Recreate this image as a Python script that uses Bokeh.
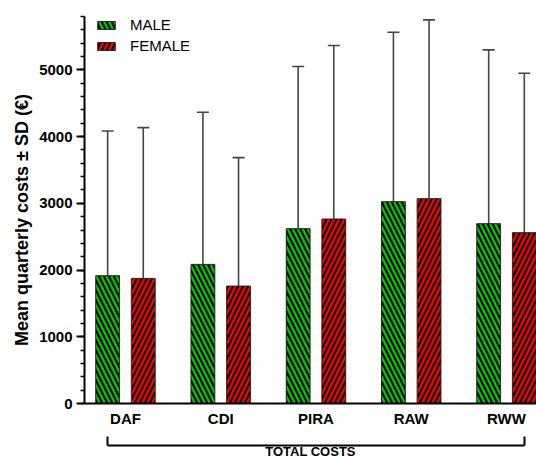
import numpy as np
from bokeh.plotting import figure
from bokeh.models import (ColumnDataSource, Range1d, FixedTicker, LinearAxis,
                          Whisker, TeeHead, Legend, LegendItem)
from bokeh.embed import file_html
from bokeh.resources import INLINE

# ---- data ----
categories = ["DAF", "CDI", "PIRA", "RAW", "RWW"]
series = ["MALE", "FEMALE"]
male_mean = [1915, 2085, 2620, 3025, 2695]
male_sd = [2170, 2280, 2430, 2540, 2605]
female_mean = [1875, 1760, 2765, 3070, 2560]
female_sd = [2260, 1925, 2600, 2680, 2390]
y_ticks = [0, 1000, 2000, 3000, 4000, 5000]
y_max = 5800
group_label = "TOTAL COSTS"
y_label = "Mean quarterly costs \u00b1 SD (\u20ac)"

FONT = "Liberation Sans"
OFF = 0.187
BW = 0.25
n = len(categories)
idx = np.arange(n)

W, H = 536, 461
TOP, BOTTOM, LEFT = 16, 58, 84
FRAME_H = H - TOP - BOTTOM

p = figure(width=W, height=H, output_backend="svg", toolbar_location=None,
           x_range=Range1d(-0.430, 4.315), y_range=Range1d(0, y_max),
           x_axis_location=None, y_axis_location=None,
           min_border_left=LEFT, min_border_right=0, min_border_top=TOP,
           min_border_bottom=BOTTOM)
p.grid.visible = False
p.outline_line_color = None
p.background_fill_color = "white"

src_m = ColumnDataSource(dict(x=idx - OFF, top=male_mean,
                              upper=np.add(male_mean, male_sd)))
src_f = ColumnDataSource(dict(x=idx + OFF, top=female_mean,
                              upper=np.add(female_mean, female_sd)))

bar_style = dict(width=BW, fill_color="black", line_color="#2a2a2a",
                 line_width=1, hatch_scale=10, hatch_weight=2.3)
r_m = p.vbar(x="x", top="top", source=src_m, hatch_pattern="\\",
             hatch_color="#00c800", **bar_style)
r_f = p.vbar(x="x", top="top", source=src_f, hatch_pattern="/",
             hatch_color="#ff0000", **bar_style)

for src in (src_m, src_f):
    p.add_layout(Whisker(source=src, base="x", lower="top", upper="upper",
                         line_color="#454545", line_width=1.6,
                         upper_head=TeeHead(size=12, line_color="#454545",
                                            line_width=1.6),
                         lower_head=None))

LEG_H = 17 * 2 + 4
legend = Legend(items=[LegendItem(label=series[0], renderers=[r_m]),
                       LegendItem(label=series[1], renderers=[r_f])],
                location=(11, FRAME_H - LEG_H), glyph_width=22, glyph_height=10,
                label_text_font_size="15px", label_text_font=FONT,
                label_text_color="black",
                label_standoff=13, spacing=4, label_height=17,
                padding=0, margin=0, background_fill_alpha=0,
                border_line_color=None)
p.add_layout(legend)

# y axis
ya = LinearAxis(ticker=FixedTicker(ticks=y_ticks,
                                   minor_ticks=list(range(0, y_max + 1, 200))),
                axis_label=y_label + "\u00a0" * 4,
                axis_line_width=2, axis_line_color="black",
                major_tick_out=8, major_tick_in=0, major_tick_line_width=2,
                minor_tick_out=4, minor_tick_in=0, minor_tick_line_width=1.5,
                major_label_text_font_size="15px", major_label_text_font_style="bold",
                major_label_text_font=FONT, major_label_text_color="black",
                major_label_standoff=4,
                axis_label_text_font_size="18px", axis_label_text_font_style="bold",
                axis_label_text_font=FONT, axis_label_text_color="black",
                axis_label_standoff=4)
p.add_layout(ya, "left")

# category axis
xa = LinearAxis(ticker=FixedTicker(ticks=[int(i) for i in idx]),
                major_label_overrides={int(i): c for i, c in zip(idx, categories)},
                axis_line_width=2, axis_line_color="black",
                major_tick_line_color=None, minor_tick_line_color=None,
                major_tick_out=0, major_tick_in=0,
                major_label_text_font_size="15px", major_label_text_font_style="bold",
                major_label_text_font=FONT, major_label_text_color="black",
                major_label_standoff=6,
                axis_label=" ", axis_label_text_font_size="4px",
                axis_label_standoff=8)
p.add_layout(xa, "below")

# bracket axis grouping all categories
b0, b1 = float(idx[0] - OFF), float(idx[-1] + OFF)
ba = LinearAxis(ticker=FixedTicker(ticks=[b0, b1]), bounds=(b0, b1),
                major_label_overrides={b0: "", b1: ""},
                axis_line_width=2, axis_line_color="black",
                major_tick_in=9, major_tick_out=0, major_tick_line_width=2,
                major_tick_line_color="black",
                minor_tick_line_color=None,
                major_label_text_font_size="0px", major_label_standoff=0,
                axis_label=group_label, axis_label_text_font_size="13px",
                axis_label_text_font_style="bold", axis_label_text_font=FONT,
                axis_label_text_color="black", axis_label_standoff=-2)
p.add_layout(ba, "below")

open("out.html", "w").write(file_html(p, INLINE))
